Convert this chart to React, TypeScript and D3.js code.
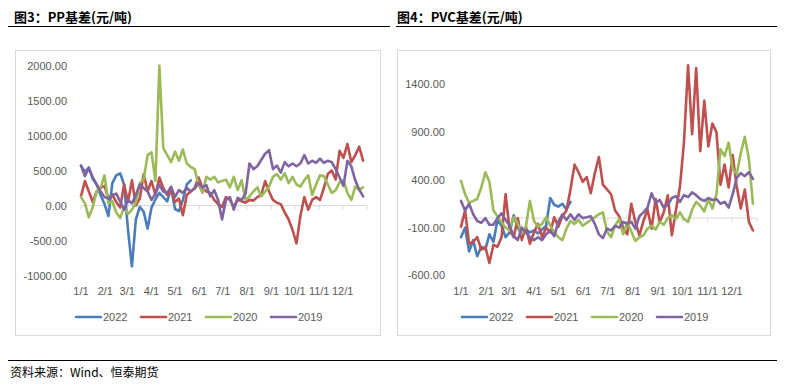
import React from 'react';
import * as d3 from 'd3';

const SERIES_NAMES = ['2022', '2021', '2020', '2019'];
const SERIES_COLORS = ['#4A7EBB', '#C0504D', '#9BBB59', '#8064A2'];
const MONTH_LABELS = ['1/1', '2/1', '3/1', '4/1', '5/1', '6/1', '7/1', '8/1', '9/1', '10/1', '11/1', '12/1'];
const MONTH_START_DAYS = [0, 31, 59, 90, 120, 151, 181, 212, 243, 273, 304, 334];
const YEAR_END_DAY = 365;
const STEP_DAYS = 5;

// PP basis (yuan/ton), one value every 5 days from 1/1
const PP_2022 = [570, 480, 540, 380, 300, 150, 20, -150, 320, 430, 460, 300, -350, -870, -200, -20, -90, -330, -30, 90, 180, 120, 60, 250, -50, -80, 80, 300, 360];
const PP_2021 = [130, 350, 200, 50, 200, 250, 280, 100, 150, 50,
  -30, 300, 50, 360, 0, 100, 450, 200, 350, 150,
  400, 250, 150, 200, 50, 100, -140, 150, 200, 250,
  400, 250, 200, 180, 80, 20, -20, 120, 80, -20,
  80, 60, 40, 80, 70, 120, 150, 350, 200, 80,
  40, 20, -100, -200, -350, -540, -150, 120, -60, 80,
  120, 80, 250, 450, 500, 370, 780, 680, 880, 620,
  720, 840, 640];
const PP_2020 = [120, 30, -170, -20, 200, 250, 430, 30, 60, -100,
  -180, -20, -120, -60, 40, 320, 370, 720, 760, 350,
  2000, 820, 720, 620, 770, 640, 800, 600, 550, 520,
  300, 180, 410, 370, 410, 330, 350, 370, 260, 410,
  220, 360, 80, 130, 200, 260, 130, 200, 270, 410,
  450, 370, 460, 320, 410, 300, 270, 360, 430, 150,
  300, 430, 420, 300, 180, 220, 330, 360, 180, 80,
  270, 220, 260];
const PP_2019 = [570, 420, 540, 400, 300, 200, 120, 100, 150, 170,
  60, -60, 80, 30, 150, 300, 250, 200, 80, 170,
  300, 200, 180, 270, 120, 220, 180, 250, 200, 240,
  320, 260, 290, 130, 220, 80, -200, 80, 120, -60,
  110, 80, 170, 600, 520, 560, 650, 740, 790, 520,
  570, 470, 620, 560, 600, 560, 600, 720, 600, 640,
  610, 670, 610, 640, 620, 520, 400, 280, 640, 560,
  360, 230, 130];

// PVC basis (yuan/ton)
const PVC_2022 = [-200, -100, -350, -230, -400, -300, -330, -170, -250, -20, -80, -200, -150, 30, -100, -170, -120, -150, -130, -160, -120, -80, 210, 140, 120, 150, 90, 170];
const PVC_2021 = [-90, 80, -270, -250, -200, -330, -300, -470, -280, -300,
  -200, 250, -130, -200, 0, -230, -90, -270, -150, -60,
  -200, -100, -150, 10, -90, 20, 80, 300, 560, 480,
  380, 430, 260, 470, 640, 350, 300, 250, 80, 20,
  -100, -170, 150, -40, -180, -30, 90, -110, 200, -40,
  60, 240, -180, 80, 330, 800, 1600, 880, 1570, 700,
  1230, 750, 990, 900, 350, 560, 320, 660, 330, 100,
  300, -40, -130];
const PVC_2020 = [390, 250, 160, 180, 200, 320, 480, 380, 80, 20,
  -40, -100, -130, 10, -60, -160, -90, 180, -30, -90,
  -60, 10, -80, -150, -200, -230, -110, -30, -60, -20,
  -80, -50, -20, 10, 40, 60, -140, -200, -80, -10,
  -170, -40, -140, -240, -200, -180, -110, -80, -120, -40,
  -70, 0, 30, -10, 60, -10, -40, 90, 170, 130,
  70, 200, 100, 250, 720, 650, 790, 520, 460, 680,
  850, 620, 150];
const PVC_2019 = [180, 80, 150, 40, -30, -50, 0, -70, -70, 0,
  50, -20, -80, -190, -230, -100, -150, -200, -230, -200,
  -230, -170, -130, -190, -40, 40, -20, 40, -20, 40,
  0, 10, 20, -60, -170, -210, -110, -130, -80, -100,
  -40, -60, -40, -110, 20, 60, 110, 260, 160, 190,
  110, 140, 210, 230, 170, 240, 220, 270, 240, 200,
  180, 210, 190, 200, 150, 170, 110, 250, 420, 470,
  440, 480, 410];

const PP_Y_TICKS = [2000, 1500, 1000, 500, 0, -500, -1000];
const PVC_Y_TICKS = [1400, 900, 400, -100, -600];

const AXIS_FONT = '"Liberation Sans", Arial, sans-serif';
const CJK_FONT = '"Noto Sans CJK SC", "Noto Sans", sans-serif';

type PanelProps = {
  frame: { x: number; y: number; w: number; h: number };
  xRange: [number, number];
  yDomain: [number, number];
  yRange: [number, number];
  yTicks: number[];
  yLabelX: number;
  xLabelY: number;
  legendY: number;
  legendX0: number;
  series: number[][];
};

function Panel(p: PanelProps) {
  const x = d3.scaleLinear().domain([0, YEAR_END_DAY]).range(p.xRange);
  const y = d3.scaleLinear().domain(p.yDomain).range(p.yRange);
  const line = d3
    .line<number>()
    .x((_, i) => x(i * STEP_DAYS))
    .y((v) => y(v));
  const y0 = y(0);
  const tickDays = [...MONTH_START_DAYS, YEAR_END_DAY];
  return (
    <g>
      <rect x={p.frame.x} y={p.frame.y} width={p.frame.w} height={p.frame.h} fill="#fff" stroke="#d9d9d9" strokeWidth={1} />
      {p.yTicks.map((t) => (
        <text key={t} x={p.yLabelX} y={y(t) + 4} textAnchor="end" fontFamily={AXIS_FONT} fontSize={11} fill="#595959">
          {t.toFixed(2)}
        </text>
      ))}
      <line x1={x(0)} x2={x(YEAR_END_DAY)} y1={y0} y2={y0} stroke="#d9d9d9" strokeWidth={1} />
      {tickDays.map((d) => (
        <line key={d} x1={x(d)} x2={x(d)} y1={y0} y2={y0 + 4} stroke="#d9d9d9" strokeWidth={1} />
      ))}
      {MONTH_LABELS.map((m, i) => (
        <text key={m} x={x(MONTH_START_DAYS[i])} y={p.xLabelY} textAnchor="middle" fontFamily={AXIS_FONT} fontSize={11} fill="#595959">
          {m}
        </text>
      ))}
      {p.series.map((s, i) => (
        <path key={i} d={line(s) || ''} fill="none" stroke={SERIES_COLORS[i]} strokeWidth={2.6} strokeLinejoin="round" strokeLinecap="round" />
      ))}
      {SERIES_NAMES.map((n, i) => {
        const lx = p.legendX0 + i * 65;
        return (
          <g key={n}>
            <line x1={lx} x2={lx + 25} y1={p.legendY} y2={p.legendY} stroke={SERIES_COLORS[i]} strokeWidth={2.6} strokeLinecap="round" />
            <text x={lx + 27} y={p.legendY + 4} fontFamily={AXIS_FONT} fontSize={11} fill="#595959">
              {n}
            </text>
          </g>
        );
      })}
    </g>
  );
}

export default function App() {
  return (
    <svg width={785} height={384} style={{ position: 'absolute', left: 0, top: 0, background: '#fff' }}>
      <rect x={0} y={0} width={785} height={384} fill="#fff" />
      <text x={14} y={22} fontFamily={CJK_FONT} fontWeight="bold" fontSize={13} fill="#000">
        图3：PP基差(元/吨)
      </text>
      <text x={397} y={22} fontFamily={CJK_FONT} fontWeight="bold" fontSize={13} fill="#000">
        图4：PVC基差(元/吨)
      </text>
      <line x1={8} x2={390} y1={26.5} y2={26.5} stroke="#000" strokeWidth={1} />
      <line x1={396} x2={777} y1={26.5} y2={26.5} stroke="#000" strokeWidth={1} />
      <Panel
        frame={{ x: 15.5, y: 50.5, w: 365, h: 285 }}
        xRange={[81, 367]}
        yDomain={[-1000, 2000]}
        yRange={[275.5, 65.5]}
        yTicks={PP_Y_TICKS}
        yLabelX={67}
        xLabelY={295}
        legendY={317}
        legendX0={76}
        series={[PP_2022, PP_2021, PP_2020, PP_2019]}
      />
      <Panel
        frame={{ x: 397.5, y: 50.5, w: 373, h: 285 }}
        xRange={[461, 757]}
        yDomain={[-600, 1400]}
        yRange={[275.4, 84.4]}
        yTicks={PVC_Y_TICKS}
        yLabelX={445}
        xLabelY={295}
        legendY={317}
        legendX0={462}
        series={[PVC_2022, PVC_2021, PVC_2020, PVC_2019]}
      />
      <line x1={8} x2={777} y1={360.5} y2={360.5} stroke="#000" strokeWidth={1} />
      <text x={10} y={377} fontFamily={CJK_FONT} fontSize={12} fill="#000">
        资料来源：Wind、恒泰期货
      </text>
    </svg>
  );
}
